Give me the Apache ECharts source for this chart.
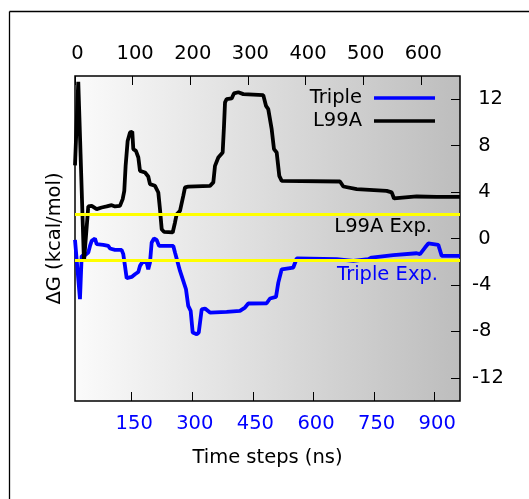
<!DOCTYPE html>
<html>
<head>
<meta charset="utf-8">
<script src="https://cdn.jsdelivr.net/npm/echarts@6/dist/echarts.min.js"></script>
<style>
  html, body { margin: 0; padding: 0; background: #fff; }
  #main { width: 529px; height: 499px; }
</style>
</head>
<body>
<div id="main"></div>
<script>
// Triple mutant, dG vs time (ns)
var tripleNs = [9.7, 13.8, 22, 26.2, 32, 42.6, 46.8, 51, 59.2, 63.4, 79.7, 92, 96.3, 108.7, 125, 129.2, 133.4, 137.6, 150, 158.2,
    166.3, 170.5, 178.7, 187, 191, 195.3, 199.5, 205.2, 211.8, 217.6, 253, 257.2, 262.9, 269.6, 277.7, 284.4, 290, 296, 301, 310.9,
    316, 323.3, 331.4, 343.8, 385, 418, 430.4, 438.6, 484, 492.3, 507.2, 512.9, 521.3, 550, 558.4, 562.4, 657.4, 698.5, 735.6, 744,
    797.5, 855.4, 863.6, 876, 884.2, 908.9, 917.3, 962.6];
var tripleDG = [-0.12, -0.2, -5.23, -1.5, -1.5, -1.2, -0.64, -0.2, 0.0, -0.49, -0.55, -0.64, -0.86, -0.98, -0.98, -1.35, -2.36, -3.42, -3.31, -3.08,
    -2.88, -2.36, -1.93, -2.07, -2.65, -2.07, -0.34, 0.0, -0.12, -0.64, -0.64, -1.2, -1.93, -2.79, -3.65, -4.37, -5.81, -6.24, -8.1, -8.25,
    -8.1, -6.1, -6.03, -6.38, -6.33, -6.24, -5.95, -5.6, -5.58, -5.17, -5.03, -3.8, -2.65, -2.5, -1.72, -1.64, -1.78, -1.93, -1.78, -1.64,
    -1.44, -1.27, -1.35, -0.78, -0.43, -0.55, -1.5, -1.5];

// L99A, dG vs time (ns)
var l99aNs = [9.7, 17.8, 31.9, 42.6, 51, 63.4, 75.7, 88, 100.5, 108.7, 121, 127.7, 131.7, 135, 140, 145.8, 151.5, 154, 160.5, 166.5,
    170.5, 183, 191, 195.3, 207.7, 215.9, 220, 224.3, 230, 251.5, 257.2, 261.4, 269.6, 277.7, 282, 290, 343.8, 352, 356.2, 364.4,
    375.2, 378.5, 381, 385, 397.5, 403, 413.9, 426.3, 475.7, 482.4, 488, 496.5, 502.2, 508.9, 515.3, 521.3, 665.6, 673.8, 707, 781,
    793.6, 799.3, 855.4, 905, 962.6];
var l99aDG = [6.3, 13.5, -2.0, 2.76, 2.81, 2.53, 2.67, 2.76, 2.87, 2.76, 2.81, 3.39, 4.1, 6.26, 8.4, 9.14, 9.2, 7.7, 7.55, 6.98,
    5.83, 5.69, 5.34, 4.68, 4.54, 3.96, 2.53, 0.8, 0.57, 0.52, 1.38, 2.09, 2.38, 3.67, 4.4, 4.47, 4.54, 4.83, 6.26, 6.98,
    7.41, 9.7, 11.72, 12.0, 12.07, 12.5, 12.6, 12.44, 12.35, 11.43, 11.15, 9.42, 7.7, 7.41, 5.4, 4.97, 4.91, 4.48, 4.25, 4.1,
    3.97, 3.45, 3.62, 3.59, 3.59];

// experimental values
var expNames = ['L99A Exp.', 'Triple Exp.'];
var expValues = [2.1, -1.85];

// tick labels
var nsTicks = [150, 300, 450, 600, 750, 900];
var dgTicks = [-12, -8, -4, 0, 4, 8, 12];

function pairs(xs, ys) {
    var out = [];
    for (var i = 0; i < xs.length; i++) {
        out.push([xs[i], ys[i]]);
    }
    return out;
}

var font = 'DejaVu Sans';
var fs = 19.5;

var myChart = echarts.init(document.getElementById('main'));
myChart.setOption({
    animation: false,
    textStyle: {fontFamily: font},
    graphic: [
        {type: 'line', shape: {x1: 9.5, y1: 11.5, x2: 529, y2: 11.5}, style: {stroke: '#000', lineWidth: 1.3}},
        {type: 'line', shape: {x1: 9.5, y1: 11.5, x2: 9.5, y2: 499}, style: {stroke: '#000', lineWidth: 1.3}}
    ],
    grid: {
        left: 75,
        right: 69,
        top: 76,
        bottom: 98,
        show: true,
        borderColor: '#000',
        borderWidth: 1.5,
        backgroundColor: new echarts.graphic.LinearGradient(0, 0, 1, 0, [
            {offset: 0, color: '#fbfbfb'},
            {offset: 1, color: '#bdbdbd'}
        ])
    },
    legend: {
        data: ['Triple', 'L99A'],
        orient: 'vertical',
        right: 94,
        top: 88,
        padding: 0,
        align: 'right',
        icon: 'rect',
        itemWidth: 61,
        itemHeight: 3.5,
        itemGap: 3,
        textStyle: {fontFamily: font, fontSize: fs, color: '#000', lineHeight: 20, padding: [0, 7, 0, 0]}
    },
    xAxis: [{
        type: 'value',
        position: 'bottom',
        min: 9.7,
        max: 962.6,
        axisLine: {show: false, onZero: false},
        splitLine: {show: false},
        axisTick: {inside: true, length: 9, customValues: nsTicks, lineStyle: {color: '#000'}},
        axisLabel: {customValues: nsTicks, color: '#0000ff', fontSize: fs, fontFamily: font, margin: 13, padding: [0, 0, 0, 5]},
        name: 'Time steps (ns)',
        nameLocation: 'middle',
        nameGap: 47,
        nameTextStyle: {fontSize: fs, fontFamily: font, color: '#000'}
    }, {
        type: 'value',
        position: 'top',
        min: 0,
        max: 668,
        interval: 100,
        axisLine: {show: false, onZero: false},
        splitLine: {show: false},
        axisTick: {inside: true, length: 9, lineStyle: {color: '#000'}},
        axisLabel: {color: '#000', fontSize: fs, fontFamily: font, margin: 12, padding: [0, 0, 0, 5], showMaxLabel: false}
    }],
    yAxis: [{
        type: 'value',
        position: 'right',
        min: -14,
        max: 14,
        axisLine: {show: false, onZero: false},
        splitLine: {show: false},
        axisTick: {inside: true, length: 9, customValues: dgTicks, lineStyle: {color: '#000'}},
        axisLabel: {
            customValues: dgTicks, color: '#000', fontSize: fs, fontFamily: font, margin: 12,
            formatter: function (v) {
                return v < 0 ? String(v) : ' ' + v;
            }
        }
    }, {
        type: 'value',
        position: 'left',
        min: -14,
        max: 14,
        axisLine: {show: false, onZero: false},
        axisTick: {show: false},
        axisLabel: {show: false},
        splitLine: {show: false},
        name: 'ΔG (kcal/mol)',
        nameLocation: 'middle',
        nameRotate: 90,
        nameGap: 10,
        nameTextStyle: {fontSize: fs, fontFamily: font, color: '#000'}
    }],
    series: [{
        name: 'exp',
        type: 'line',
        data: [],
        silent: true,
        markLine: {
            silent: true,
            symbol: 'none',
            lineStyle: {color: '#ffff00', width: 3, type: 'solid'},
            data: [{
                yAxis: expValues[0],
                label: {show: true, formatter: expNames[0], position: 'insideEndBottom', distance: [28, 3],
                    color: '#000', fontSize: fs, fontFamily: font}
            }, {
                yAxis: expValues[1],
                label: {show: true, formatter: expNames[1], position: 'insideEndBottom', distance: [22, 5],
                    color: '#0000ff', fontSize: fs, fontFamily: font}
            }]
        }
    }, {
        name: 'Triple',
        type: 'line',
        data: pairs(tripleNs, tripleDG),
        showSymbol: false,
        symbol: 'none',
        itemStyle: {color: '#0000ff'},
        lineStyle: {color: '#0000ff', width: 3.8}
    }, {
        name: 'L99A',
        type: 'line',
        data: pairs(l99aNs, l99aDG),
        showSymbol: false,
        symbol: 'none',
        itemStyle: {color: '#000000'},
        lineStyle: {color: '#000000', width: 3.8}
    }]
});
</script>
</body>
</html>
